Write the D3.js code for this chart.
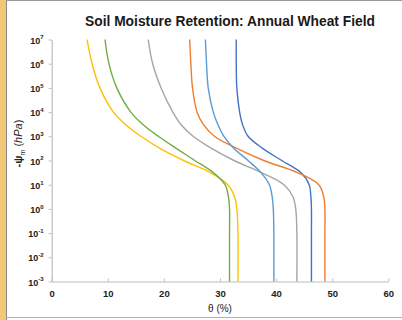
<!DOCTYPE html>
<html>
<head>
<meta charset="utf-8">
<script src="https://cdn.jsdelivr.net/npm/d3@7"></script>
<style>
  body { margin: 0; background: #fff; }
  svg { display: block; font-family: "Liberation Sans", Arial, sans-serif; }
</style>
</head>
<body>
<script>
const psi = [1e7, 1e6, 1e5, 1e4, 3162, 1000, 316, 100, 31.6, 10, 3.16, 1, 0.1, 0.001];

// volumetric water content (%) for each curve
const yellowTheta   = [6.3, 7.2, 8.6, 11.0, 13.1, 15.9, 19.3, 23.5, 28.3, 31.4, 32.6, 33.0, 33.2, 33.2];
const greenTheta    = [9.5, 10.2, 11.6, 14.1, 16.2, 19.0, 22.2, 25.5, 28.8, 30.9, 31.5, 31.7, 31.7, 31.7];
const grayTheta     = [17.2, 18.0, 19.5, 21.6, 23.0, 25.2, 28.5, 32.5, 37.4, 41.4, 43.0, 43.5, 43.7, 43.7];
const orangeTheta   = [24.6, 24.8, 25.1, 25.9, 27.0, 29.0, 33.0, 37.8, 43.8, 47.6, 48.5, 48.7, 48.7, 48.7];
const lightBlueTheta= [27.4, 27.6, 27.9, 28.8, 29.6, 30.7, 32.5, 35.0, 37.3, 38.8, 39.3, 39.5, 39.6, 39.6];
const blueTheta     = [32.9, 32.9, 33.0, 33.5, 34.0, 35.0, 37.6, 41.0, 44.4, 45.9, 46.2, 46.3, 46.3, 46.3];

const series = [
  { name: "blue", values: blueTheta, color: "#4472c4" },
  { name: "orange", values: orangeTheta, color: "#ed7d31" },
  { name: "gray", values: grayTheta, color: "#a5a5a5" },
  { name: "yellow", values: yellowTheta, color: "#ffc000" },
  { name: "lightblue", values: lightBlueTheta, color: "#5b9bd5" },
  { name: "green", values: greenTheta, color: "#70ad47" }
];

const xTicks = [0, 10, 20, 30, 40, 50, 60];
const yExponents = [7, 6, 5, 4, 3, 2, 1, 0, -1, -2, -3];

const W = 402, H = 320;
const margin = { top: 39.5, right: 13.7, bottom: 38.5, left: 51.7 };
const width = W - margin.left - margin.right,
      height = H - margin.top - margin.bottom;

const svg = d3.select("body").append("svg")
  .attr("width", W)
  .attr("height", H);

// frame: tan strip on the left, thin grey border
svg.append("rect").attr("x", 0).attr("y", 0).attr("width", 6).attr("height", H).attr("fill", "#f0c878");
svg.append("line").attr("x1", 6.5).attr("x2", 6.5).attr("y1", 0).attr("y2", H).attr("stroke", "#8a8a8a");
svg.append("line").attr("x1", 6).attr("x2", W).attr("y1", 0.5).attr("y2", 0.5).attr("stroke", "#9a9a9a");
svg.append("line").attr("x1", 6).attr("x2", W).attr("y1", 317.5).attr("y2", 317.5).attr("stroke", "#b0b0b0");

svg.append("text")
  .attr("x", 230).attr("y", 26)
  .attr("text-anchor", "middle")
  .attr("font-weight", "bold")
  .attr("font-size", 13.8)
  .attr("fill", "#1a1a1a")
  .text("Soil Moisture Retention: Annual Wheat Field");

const g = svg.append("g").attr("transform", `translate(${margin.left},${margin.top})`);

const x = d3.scaleLinear().domain([0, 60]).range([0, width]);
const y = d3.scaleLog().domain([1e-3, 1e7]).range([height, 0]);

// x axis
const xAxis = g.append("g")
  .attr("transform", `translate(0,${height})`)
  .call(d3.axisBottom(x).tickValues(xTicks).tickSizeInner(-3).tickSizeOuter(0).tickPadding(9));
xAxis.select(".domain").attr("stroke", "#bdbdbd").attr("stroke-width", 1.2);
xAxis.selectAll(".tick line").attr("stroke", "#bdbdbd");
xAxis.selectAll(".tick text")
  .attr("font-size", 9.5).attr("font-weight", "bold").attr("fill", "#222")
  .attr("font-family", "Liberation Sans, Arial, sans-serif");

// y axis
const yAxis = g.append("g")
  .call(d3.axisLeft(y).tickValues(yExponents.map(e => Math.pow(10, e))).tickSizeInner(3).tickSizeOuter(0).tickFormat(""));
yAxis.select(".domain").attr("stroke", "#bdbdbd").attr("stroke-width", 1.2);
yAxis.selectAll(".tick line").attr("stroke", "#bdbdbd");
yAxis.selectAll(".tick").each(function(d) {
  const t = d3.select(this).append("text")
    .attr("x", -8).attr("dy", "0.4em")
    .attr("text-anchor", "end")
    .attr("font-weight", "bold")
    .attr("font-size", 9)
    .attr("fill", "#222")
    .attr("font-family", "Liberation Sans, Arial, sans-serif");
  t.append("tspan").text("10");
  t.append("tspan").attr("font-size", 6).attr("dy", "-0.7em")
    .text(String(Math.round(Math.log10(d))));
});

// axis titles
svg.append("text")
  .attr("x", margin.left + width / 2).attr("y", 312)
  .attr("text-anchor", "middle")
  .attr("font-size", 10)
  .attr("fill", "#222")
  .text("θ (%)");

const yt = svg.append("text")
  .attr("transform", `translate(22,${margin.top + height * 0.43}) rotate(-90)`)
  .attr("text-anchor", "middle")
  .attr("font-size", 11)
  .attr("fill", "#222");
yt.append("tspan").attr("font-weight", "bold").text("-ψ");
yt.append("tspan").attr("font-size", 7).attr("dy", 3).text("m");
yt.append("tspan").attr("dy", -3).text(" (");
yt.append("tspan").attr("font-style", "italic").text("hPa");
yt.append("tspan").text(")");

// retention curves
const line = d3.line()
  .x(d => x(d[0]))
  .y(d => y(d[1]))
  .curve(d3.curveCatmullRom.alpha(0.5));

g.selectAll("path.curve")
  .data(series)
  .join("path")
  .attr("class", "curve")
  .attr("fill", "none")
  .attr("stroke", d => d.color)
  .attr("stroke-width", 1.4)
  .attr("d", d => line(d.values.map((v, i) => [v, psi[i]]).reverse()));
</script>
</body>
</html>
